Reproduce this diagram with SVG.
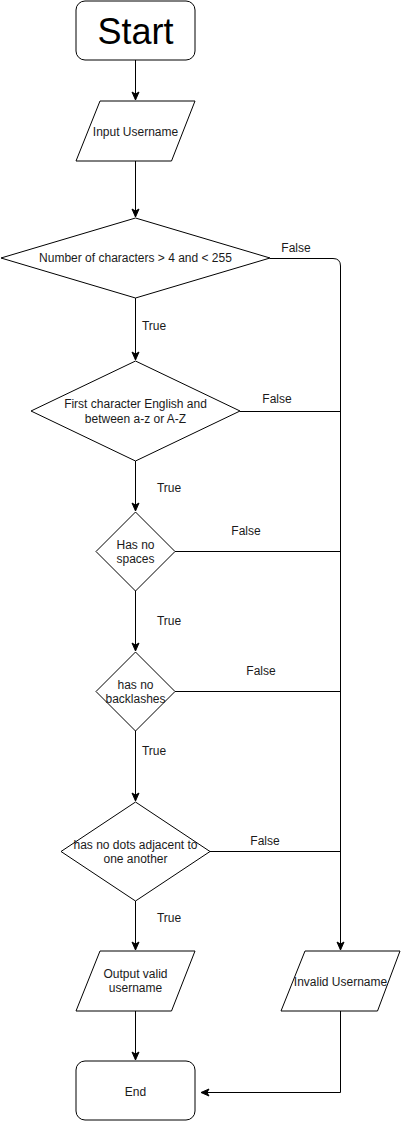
<svg xmlns="http://www.w3.org/2000/svg" width="401" height="1122" viewBox="0 0 401 1122">
<defs>
<marker id="arr" markerUnits="userSpaceOnUse" markerWidth="10" markerHeight="10" viewBox="0 0 10 10" refX="9" refY="5" orient="auto">
<path d="M1,1.5 L9,5 L1,8.5 L3,5 Z" fill="#000" stroke="#000" stroke-width="1"/>
</marker>
</defs>
<style>
.s{fill:#fff;stroke:#000;stroke-width:1}
.c{fill:none;stroke:#000;stroke-width:1}
text{font-family:"Liberation Sans",Arial,sans-serif;font-size:12px;fill:#1a1a1a;text-anchor:middle}
.big{font-size:36px;fill:#000}
</style>
<rect width="401" height="1122" fill="#fff"/>
<g id="connectors">
<path class="c" d="M135.5,60 V100" marker-end="url(#arr)"/>
<path class="c" d="M135.5,161 V217" marker-end="url(#arr)"/>
<path class="c" d="M135.5,298 V360" marker-end="url(#arr)"/>
<path class="c" d="M135.5,461 V511" marker-end="url(#arr)"/>
<path class="c" d="M135.5,591 V651" marker-end="url(#arr)"/>
<path class="c" d="M135.5,731 V801" marker-end="url(#arr)"/>
<path class="c" d="M135.5,901 V950" marker-end="url(#arr)"/>
<path class="c" d="M135.5,1011 V1060" marker-end="url(#arr)"/>
<path class="c" d="M270,258.5 H333 Q340.5,258.5 340.5,266 V950" marker-end="url(#arr)"/>
<path class="c" d="M240,411.5 H340.5"/>
<path class="c" d="M175,551.5 H340.5"/>
<path class="c" d="M175,691.5 H340.5"/>
<path class="c" d="M210,851.5 H340.5"/>
<path class="c" d="M340.5,1011 V1092.5 H201" marker-end="url(#arr)"/>
<text x="296" y="252">False</text>
<text x="277" y="403">False</text>
<text x="246" y="535">False</text>
<text x="261" y="675">False</text>
<text x="265" y="845">False</text>
<text x="154" y="330">True</text>
<text x="169" y="492">True</text>
<text x="169" y="625">True</text>
<text x="154" y="755">True</text>
<text x="169" y="922">True</text>
</g>
<g id="start">
<rect class="s" x="76" y="1" width="119" height="59" rx="9"/>
<text class="big" x="135.5" y="44">Start</text>
</g>
<g id="input">
<path class="s" d="M100,101 H195 L171.5,161 H76 Z"/>
<text x="135.5" y="136">Input Username</text>
</g>
<g id="d1">
<path class="s" d="M135.5,218 L270,258 L135.5,298 L1,258 Z"/>
<text x="135.5" y="262">Number of characters &gt; 4 and &lt; 255</text>
</g>
<g id="d2">
<path class="s" d="M135.5,361 L240,411 L135.5,461 L31,411 Z"/>
<text x="135.5" y="408">First character English and</text>
<text x="135.5" y="423">between a-z or A-Z</text>
</g>
<g id="d3">
<path class="s" d="M135.5,512 L175,551.5 L135.5,591 L96,551.5 Z"/>
<text x="135.5" y="549">Has no</text>
<text x="135.5" y="563">spaces</text>
</g>
<g id="d4">
<path class="s" d="M135.5,652 L175,691.5 L135.5,731 L96,691.5 Z"/>
<text x="135.5" y="689">has no</text>
<text x="135.5" y="703">backlashes</text>
</g>
<g id="d5">
<path class="s" d="M135.5,802 L210,851.5 L135.5,901 L61,851.5 Z"/>
<text x="135.5" y="849">has no dots adjacent to</text>
<text x="135.5" y="863">one another</text>
</g>
<g id="output">
<path class="s" d="M100,951 H195 L171.5,1011 H76 Z"/>
<text x="135.5" y="978">Output valid</text>
<text x="135.5" y="992">username</text>
</g>
<g id="invalid">
<path class="s" d="M305,951 H400 L377.5,1011 H281 Z"/>
<text x="340.5" y="986">Invalid Username</text>
</g>
<g id="end">
<rect class="s" x="76" y="1061" width="119" height="59" rx="9"/>
<text x="135.5" y="1096">End</text>
</g>
</svg>
